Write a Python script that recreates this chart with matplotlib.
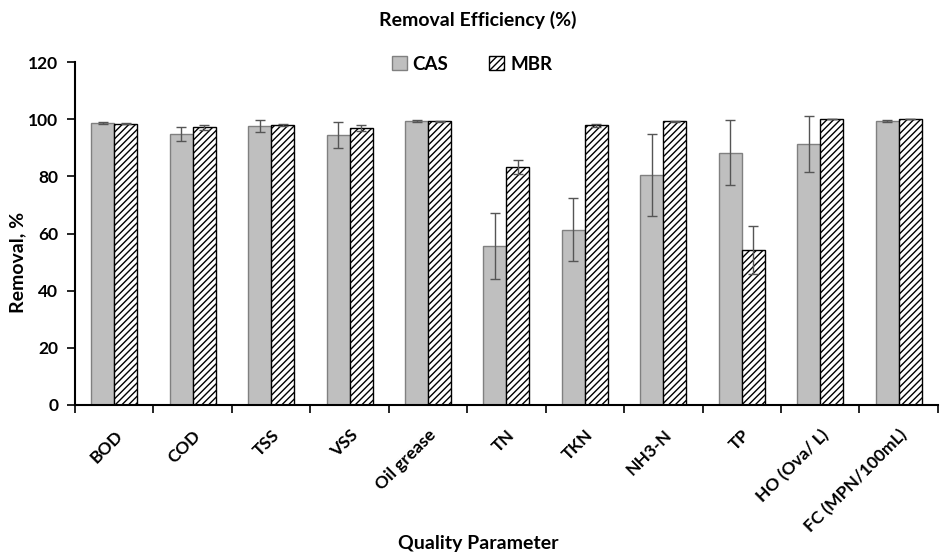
import numpy as np
import matplotlib
matplotlib.use("Agg")
import matplotlib.pyplot as plt

plt.rcParams['font.family'] = ['Lato', 'DejaVu Sans']
plt.rcParams['hatch.linewidth'] = 1.0

params = ['BOD', 'COD', 'TSS', 'VSS', 'Oil grease', 'TN', 'TKN', 'NH3-N', 'TP',
          'HO (Ova/ L)', 'FC (MPN/100mL)']
cas = [98.6, 94.9, 97.6, 94.6, 99.4, 55.6, 61.3, 80.5, 88.3, 91.2, 99.3]
cas_err = [0.3, 2.4, 2.0, 4.6, 0.3, 11.5, 11.0, 14.3, 11.3, 9.8, 0.3]
mbr = [98.5, 97.2, 98.0, 97.0, 99.3, 83.3, 97.9, 99.3, 54.1, 100.0, 100.0]
mbr_err = [0.2, 0.8, 0.5, 1.0, 0.2, 2.5, 0.5, 0.2, 8.4, 0.0, 0.0]

fig = plt.figure(figsize=(9.4, 5.6), dpi=100)
ax = fig.add_axes([0.0798, 0.277, 0.918, 0.612])

x = np.arange(len(params))
w = 0.293
ekw = dict(ecolor='#555555', elinewidth=1.0, capsize=3.5, capthick=1.0)

ax.bar(x - w/2, cas, w, yerr=cas_err, color='#bfbfbf', edgecolor='#808080',
       linewidth=1.0, label='CAS', error_kw=ekw)
ax.bar(x + w/2, mbr, w, yerr=mbr_err, color='white', edgecolor='black',
       hatch='/////', linewidth=1.0, label='MBR', error_kw=ekw)

ax.set_xlim(-0.5, len(params) - 0.5)
ax.set_ylim(0, 120)
ax.set_yticks(range(0, 121, 20))

ax.set_xticks(x)
ax.set_xticklabels(params, rotation=45, ha='right', rotation_mode='anchor',
                   fontweight='bold', fontsize=12.5)
ax.set_xticks(np.arange(-0.5, len(params)), minor=True)
ax.tick_params(axis='x', which='major', length=0, pad=16)
ax.tick_params(axis='x', which='minor', length=6, width=1.2, direction='out')
ax.tick_params(axis='y', length=6, width=1.2, labelsize=12.5, pad=6)
for t in ax.get_yticklabels():
    t.set_fontweight('bold')

for s in ['top', 'right']:
    ax.spines[s].set_visible(False)
for s in ['left', 'bottom']:
    ax.spines[s].set_linewidth(1.5)

fig.text(18/940, 1 - 262/560, 'Removal, %', rotation=90, ha='center',
         va='center', fontsize=14, fontweight='bold')
fig.text(478/940, 1 - 543/560, 'Quality Parameter', ha='center', va='center',
         fontsize=14, fontweight='bold')
fig.text(478/940, 1 - 20/560, 'Removal Efficiency (%)', ha='center', va='center',
         fontsize=14, fontweight='bold')

leg = fig.legend(loc='center', bbox_to_anchor=(472/940, 1 - 64/560), ncol=2,
                 frameon=False, handlelength=0.8, handleheight=0.8,
                 handletextpad=0.3, columnspacing=2.2,
                 prop={'weight': 'bold', 'size': 13.5})

fig.savefig('out.png', dpi=100)
